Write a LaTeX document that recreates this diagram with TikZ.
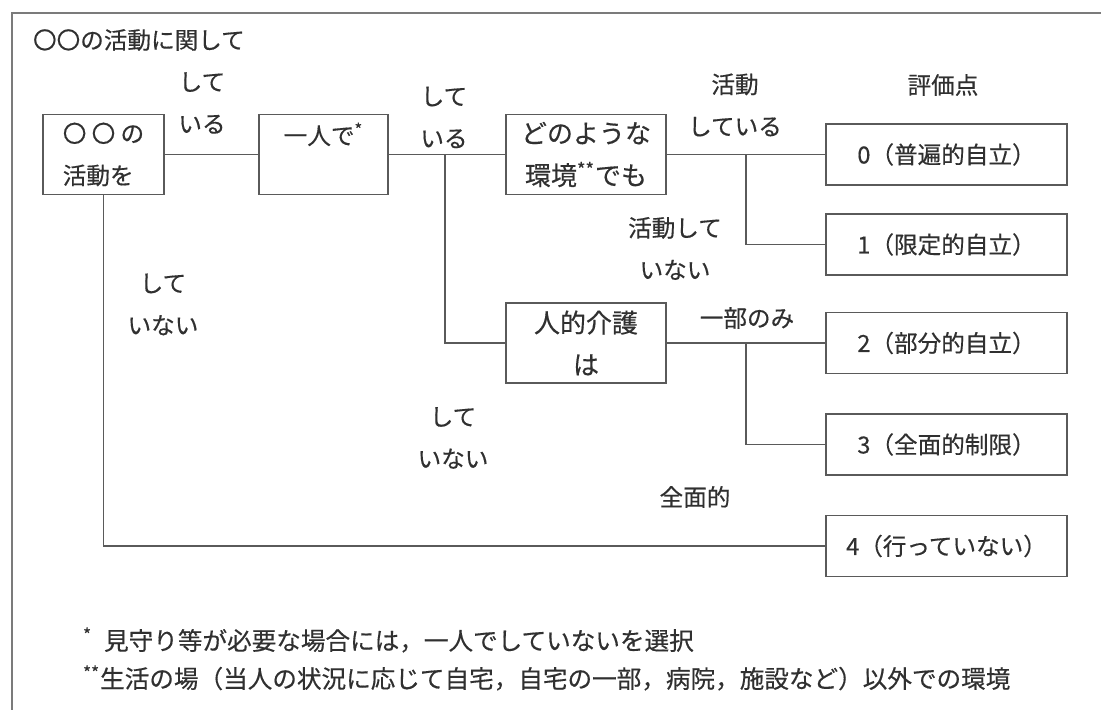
\documentclass[tikz,border=0pt]{standalone}
\usepackage{fontspec}
\setmainfont{Noto Sans CJK JP}[FakeBold=0.4]
\definecolor{ink}{HTML}{303030}
\definecolor{rule}{HTML}{5A5A5A}
\begin{document}
\begin{tikzpicture}[x=0.5pt,y=-0.5pt,
  every node/.style={text=ink,font=\fontsize{11.8}{21}\selectfont},
  box/.style={draw=rule,line width=0.8pt,inner sep=0pt,align=center},
  wide/.style={box,minimum width=80pt,minimum height=40pt,font=\fontsize{13}{21}\selectfont},
  score/.style={box,minimum width=120.5pt,minimum height=30.5pt},
  lbl/.style={align=center},
  note/.style={anchor=west,font=\fontsize{12.3}{21}\selectfont},
  link/.style={draw=rule,line width=0.8pt}]
  \useasboundingbox (0,0) rectangle (1101,710);
  \draw[link,draw=rule!80] (12,710) -- (12,13) -- (1101,13);
  \node[anchor=west] (title) at (26,40) {〇〇の活動に関して};

  % Question boxes
  \node[box,minimum width=60.5pt,minimum height=40pt,align=left] (act) at (103.5,154.5) {〇 〇 の\\活動を};
  \node[box,minimum width=64.5pt,minimum height=40pt] (alone) at (323.5,154.5) {一人で\textsuperscript{*}\\\mbox{}};
  \node[wide] (env) at (586,154.5) {どのような\\環境\textsuperscript{**}でも};
  \node[wide] (care) at (586,343) {人的介護\\は};

  % Score boxes
  \node (pts) at (943,85) {評価点};
  \node[score] (s0) at (946.5,154.5) {0（普遍的自立）};
  \node[score] (s1) at (946.5,244.5) {1（限定的自立）};
  \node[score] (s2) at (946.5,343) {2（部分的自立）};
  \node[score] (s3) at (946.5,444.5) {3（全面的制限）};
  \node[score] (s4) at (946.5,546) {4（行っていない）};

  % Connectors
  \coordinate (j1) at (445,154.5);
  \coordinate (j2) at (746,154.5);
  \coordinate (j3) at (746,343);
  \draw[link] (act) -- (alone);
  \draw[link] (alone) -- (env);
  \draw[link] (j1) |- (care.west);
  \draw[link] (env) -- (s0);
  \draw[link] (j2) |- (s1.west);
  \draw[link] (care) -- (s2);
  \draw[link] (j3) |- (s3.west);
  \draw[link] (act.south) |- (s4.west);

  % Branch labels
  \node[lbl] (do1) at (202,103) {して\\いる};
  \node[lbl] (do2) at (444,117.5) {して\\いる};
  \node[lbl] (acton) at (735,105) {活動\\している};
  \node[lbl] (actoff) at (675,248.5) {活動して\\いない};
  \node (part) at (747,318) {一部のみ};
  \node[lbl] (dont1) at (163,304.5) {して\\いない};
  \node[lbl] (dont2) at (453,438) {して\\いない};
  \node (full) at (695,497) {全面的};

  % Notes
  \node[note] (fn1) at (76,640) {\textsuperscript{*}\hspace{6pt}見守り等が必要な場合には，一人でしていないを選択};
  \node[note] (fn2) at (76,678) {\textsuperscript{**}生活の場（当人の状況に応じて自宅，自宅の一部，病院，施設など）以外での環境};
\end{tikzpicture}
\end{document}
